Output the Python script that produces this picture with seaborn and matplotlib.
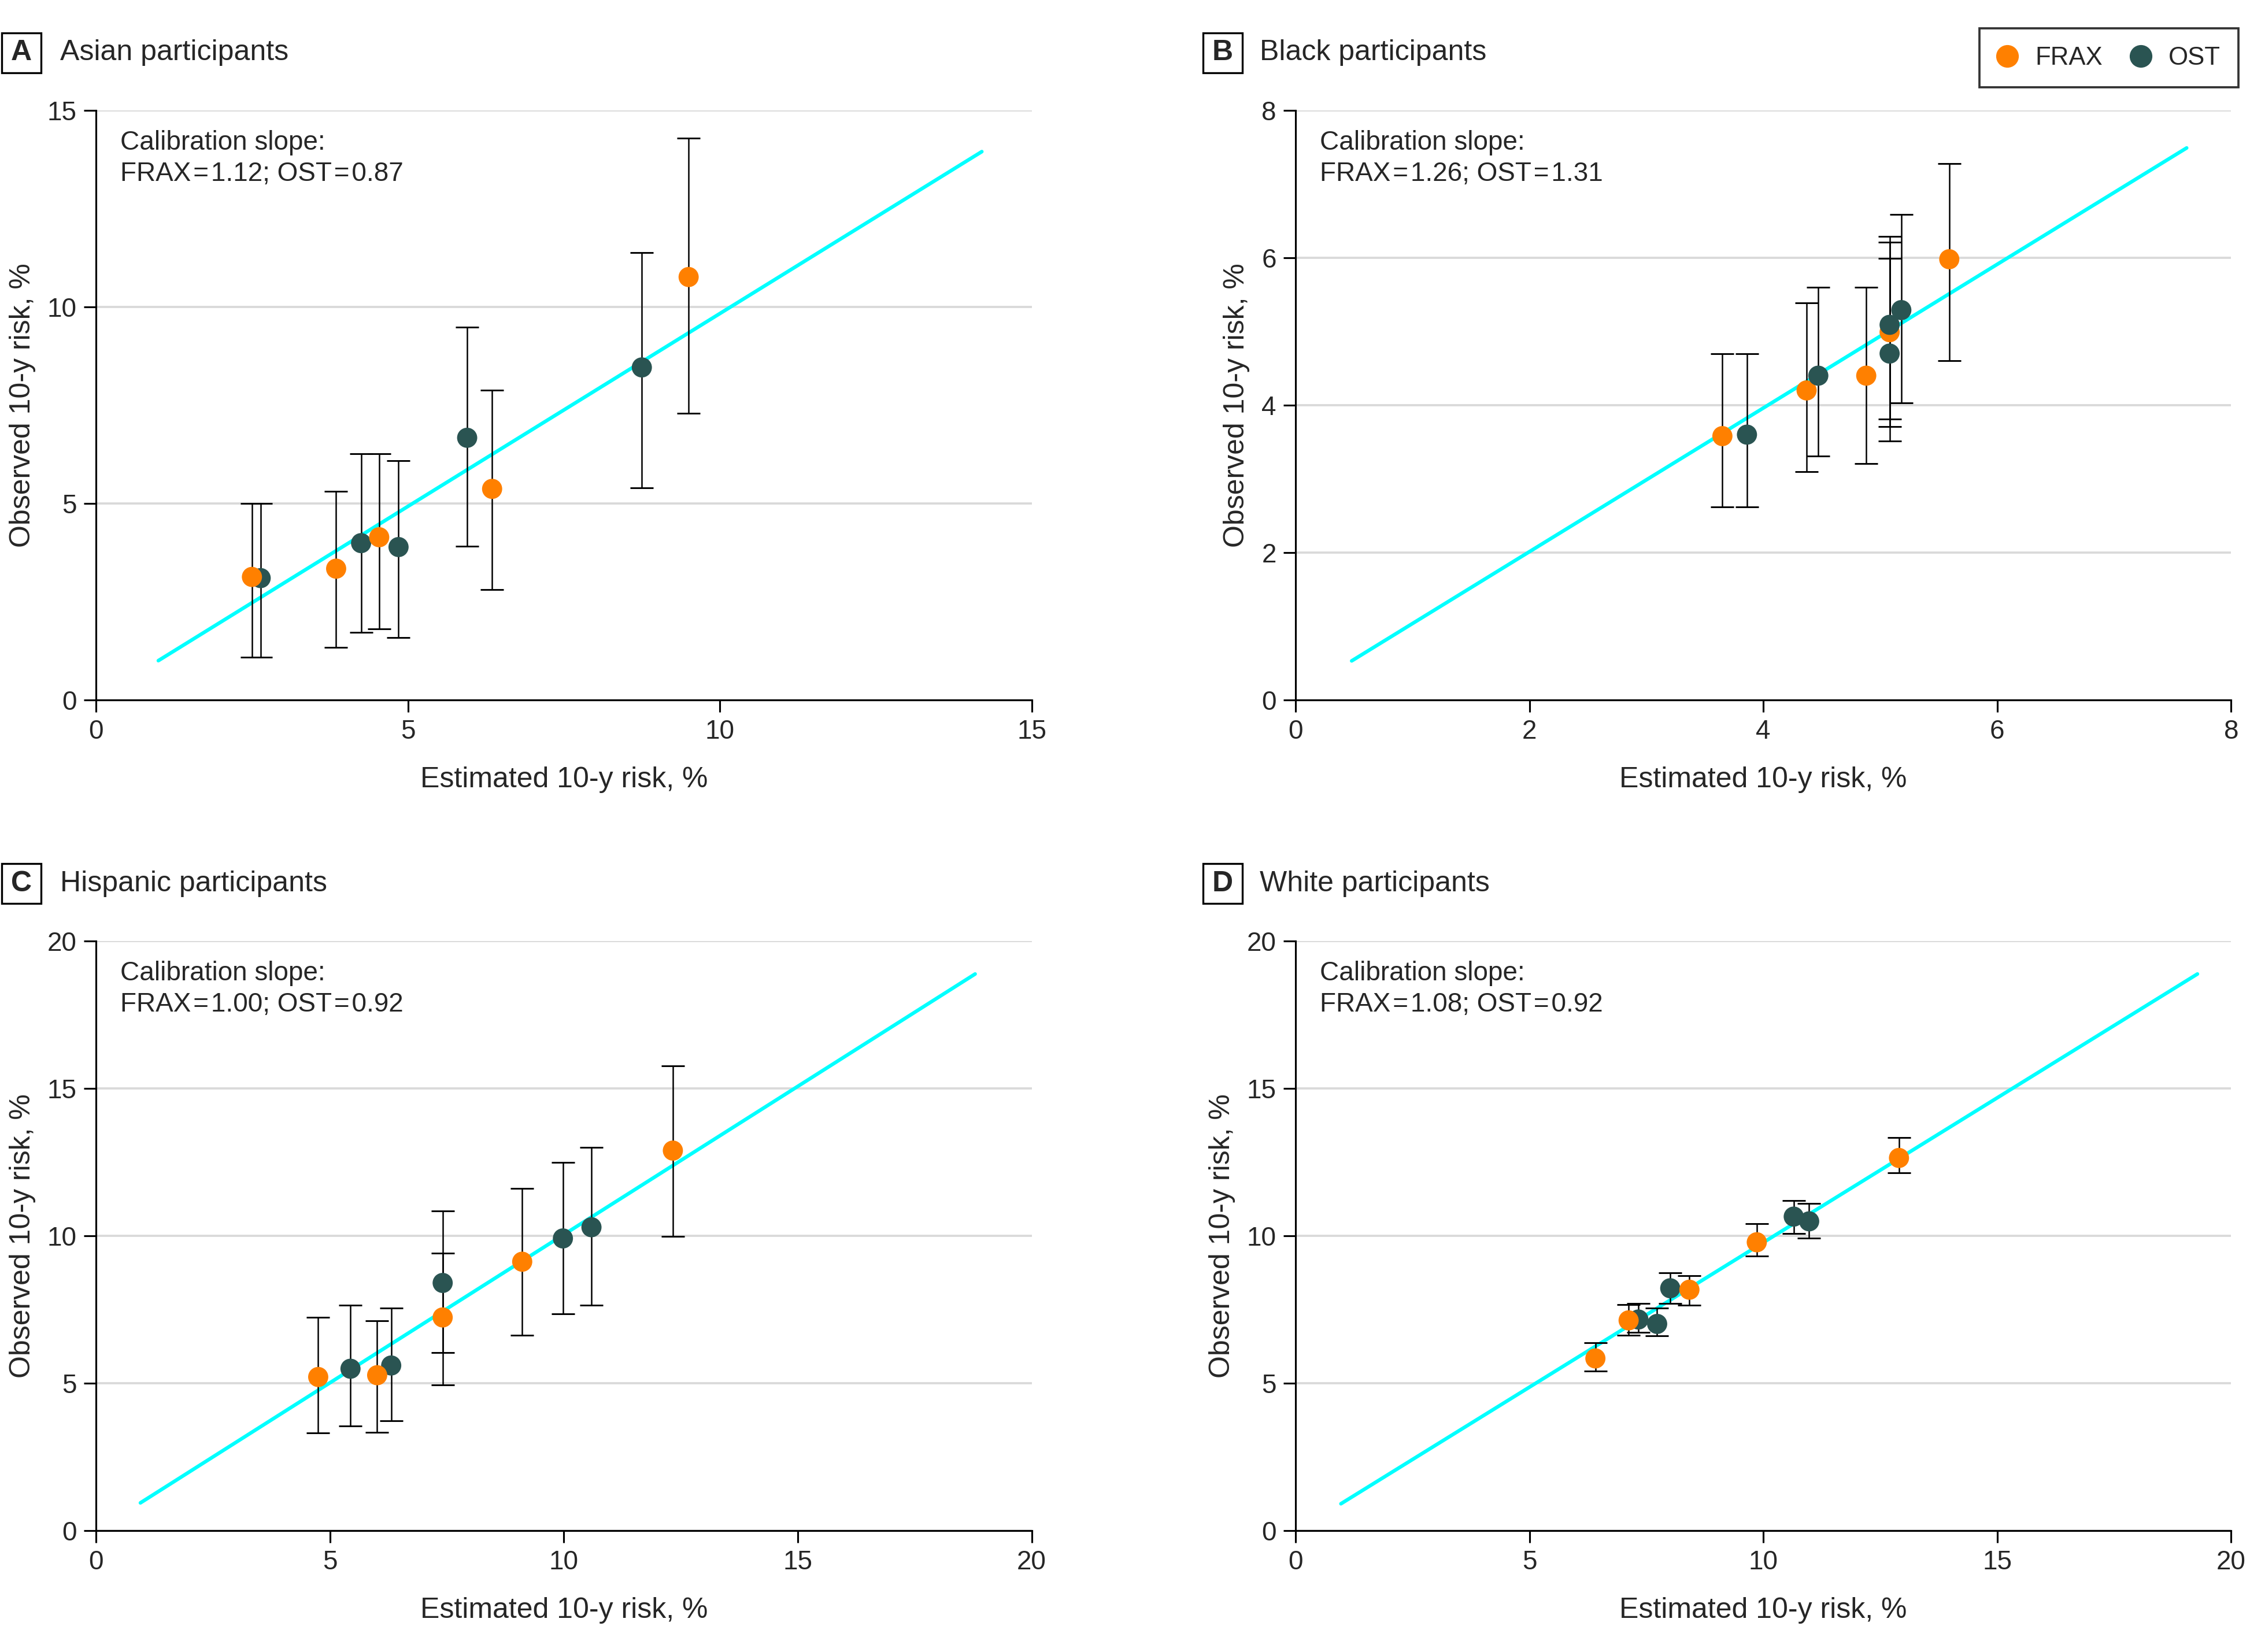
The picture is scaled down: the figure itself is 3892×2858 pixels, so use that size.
import numpy as np
import pandas as pd
import matplotlib
matplotlib.use("Agg")
import matplotlib.pyplot as plt
from matplotlib.patches import Rectangle
from matplotlib.lines import Line2D
import seaborn as sns

# ---------------- data ----------------
panel_letters = ["A", "B", "C", "D"]
panel_titles = ["Asian participants", "Black participants",
                "Hispanic participants", "White participants"]
slope_frax = ["1.12", "1.26", "1.00", "1.08"]
slope_ost = ["0.87", "1.31", "0.92", "0.92"]
axis_max = [15, 8, 20, 20]
axis_ticks = [[0, 5, 10, 15], [0, 2, 4, 6, 8], [0, 5, 10, 15, 20], [0, 5, 10, 15, 20]]

# Panel A - Asian
a_frax_x = [2.50, 3.85, 4.54, 6.35, 9.50]
a_frax_y = [3.13, 3.34, 4.14, 5.37, 10.76]
a_frax_lo = [1.09, 1.33, 1.81, 2.81, 7.29]
a_frax_hi = [5.00, 5.31, 6.27, 7.88, 14.30]
a_ost_x = [2.64, 4.25, 4.85, 5.95, 8.75]
a_ost_y = [3.10, 3.99, 3.89, 6.67, 8.46]
a_ost_lo = [1.09, 1.72, 1.59, 3.91, 5.39]
a_ost_hi = [5.00, 6.27, 6.09, 9.49, 11.38]
a_line_x = [1.00, 14.20]
a_line_y = [1.00, 13.95]

# Panel B - Black
b_frax_x = [3.65, 4.37, 4.88, 5.08, 5.59]
b_frax_y = [3.58, 4.20, 4.40, 4.99, 5.98]
b_frax_lo = [2.62, 3.10, 3.21, 3.71, 4.60]
b_frax_hi = [4.70, 5.39, 5.60, 6.21, 7.28]
b_ost_x = [3.86, 4.47, 5.08, 5.08, 5.18]
b_ost_y = [3.60, 4.40, 4.70, 5.09, 5.29]
b_ost_lo = [2.62, 3.31, 3.51, 3.81, 4.03]
b_ost_hi = [4.70, 5.60, 5.99, 6.29, 6.59]
b_line_x = [0.48, 7.62]
b_line_y = [0.53, 7.49]

# Panel C - Hispanic
c_frax_x = [4.75, 6.01, 7.41, 9.11, 12.33]
c_frax_y = [5.21, 5.27, 7.23, 9.12, 12.89]
c_frax_lo = [3.31, 3.33, 4.94, 6.63, 9.97]
c_frax_hi = [7.23, 7.12, 9.42, 11.61, 15.77]
c_ost_x = [5.44, 6.31, 7.41, 9.98, 10.59]
c_ost_y = [5.49, 5.60, 8.40, 9.91, 10.29]
c_ost_lo = [3.54, 3.73, 6.04, 7.35, 7.65]
c_ost_hi = [7.65, 7.54, 10.85, 12.49, 13.00]
c_line_x = [0.95, 18.79]
c_line_y = [0.94, 18.88]

# Panel D - White
d_frax_x = [6.41, 7.12, 8.42, 9.86, 12.90]
d_frax_y = [5.84, 7.13, 8.17, 9.78, 12.64]
d_frax_lo = [5.41, 6.62, 7.65, 9.31, 12.13]
d_frax_hi = [6.37, 7.66, 8.64, 10.42, 13.33]
d_ost_x = [7.33, 7.73, 8.01, 10.65, 10.98]
d_ost_y = [7.16, 7.01, 8.22, 10.65, 10.49]
d_ost_lo = [6.72, 6.61, 7.71, 10.08, 9.92]
d_ost_hi = [7.71, 7.55, 8.75, 11.19, 11.09]
d_line_x = [0.97, 19.28]
d_line_y = [0.91, 18.88]

# which model is drawn first (underneath) in each panel
first_model = ["OST", "FRAX", "OST", "OST"]

panel_data = {
    "A": (a_frax_x, a_frax_y, a_frax_lo, a_frax_hi, a_ost_x, a_ost_y, a_ost_lo, a_ost_hi, a_line_x, a_line_y),
    "B": (b_frax_x, b_frax_y, b_frax_lo, b_frax_hi, b_ost_x, b_ost_y, b_ost_lo, b_ost_hi, b_line_x, b_line_y),
    "C": (c_frax_x, c_frax_y, c_frax_lo, c_frax_hi, c_ost_x, c_ost_y, c_ost_lo, c_ost_hi, c_line_x, c_line_y),
    "D": (d_frax_x, d_frax_y, d_frax_lo, d_frax_hi, d_ost_x, d_ost_y, d_ost_lo, d_ost_hi, d_line_x, d_line_y),
}

# ---------------- style ----------------
ORANGE = "#FF8000"
TEAL = "#2A5452"
CYAN = "#00FFFF"
GRID = "#D9D9D9"
palette = {"FRAX": ORANGE, "OST": TEAL}

sns.set_theme(style="white")
plt.rcParams["font.family"] = ["Liberation Sans", "DejaVu Sans"]
plt.rcParams["axes.edgecolor"] = "black"
plt.rcParams["axes.linewidth"] = 0.75

fig = plt.figure(figsize=(3892 / 300, 2858 / 300), dpi=300)
fig.patch.set_facecolor("white")

positions = {
    "A": [0.04265, 0.5763, 0.4159, 0.3569],
    "B": [0.5758, 0.5763, 0.4158, 0.3569],
    "C": [0.04265, 0.0735, 0.4159, 0.3569],
    "D": [0.5758, 0.0735, 0.4158, 0.3569],
}
box_centers = {"A": (0.0095, 0.9680), "B": (0.5433, 0.9680),
               "C": (0.0095, 0.4651), "D": (0.5433, 0.4651)}
title_x = {"A": 0.0267, "B": 0.5599, "C": 0.0267, "D": 0.5599}
box_w, box_h = 0.01747, 0.02414
HS = "\u200a"

for i, letter in enumerate(panel_letters):
    fx, fy, flo, fhi, ox, oy, olo, ohi, lx, ly = panel_data[letter]
    frax = pd.DataFrame({"est": fx, "obs": fy, "lo": flo, "hi": fhi, "model": "FRAX"})
    ost = pd.DataFrame({"est": ox, "obs": oy, "lo": olo, "hi": ohi, "model": "OST"})
    df = pd.concat([ost, frax] if first_model[i] == "OST" else [frax, ost], ignore_index=True)

    ax = fig.add_axes(positions[letter])
    m = axis_max[i]
    ax.set_xlim(0, m)
    ax.set_ylim(0, m)
    ax.set_xticks(axis_ticks[i])
    ax.set_yticks(axis_ticks[i])
    ax.yaxis.grid(True, color=GRID, linewidth=0.9)
    ax.xaxis.grid(False)
    ax.set_axisbelow(True)
    for s in ["top", "right"]:
        ax.spines[s].set_visible(False)
    ax.tick_params(axis="both", which="both", direction="out", length=5, width=0.75,
                   color="black", labelsize=11, pad=3, bottom=True, left=True)

    sns.lineplot(x=lx, y=ly, color=CYAN, linewidth=1.5, ax=ax, zorder=2)
    ax.errorbar(df["est"], df["obs"],
                yerr=[df["obs"] - df["lo"], df["hi"] - df["obs"]],
                fmt="none", ecolor="black", elinewidth=0.6, capsize=4.8,
                capthick=0.7, zorder=3)
    sns.scatterplot(data=df, x="est", y="obs", hue="model", palette=palette,
                    s=70, linewidth=0, legend=False, ax=ax, zorder=4)

    ax.set_xlabel("Estimated 10-y risk, %", fontsize=12, labelpad=9)
    ax.set_ylabel("Observed 10-y risk, %", fontsize=12, labelpad=4.8)

    ax.text(0.026, 0.967,
            "Calibration slope:\nFRAX" + HS + "=" + HS + slope_frax[i] + "; OST" + HS + "=" + HS + slope_ost[i],
            transform=ax.transAxes, ha="left", va="top", fontsize=11, linespacing=1.3)

    cx, cy = box_centers[letter]
    fig.add_artist(Rectangle((cx - box_w / 2, cy - box_h / 2), box_w, box_h,
                             transform=fig.transFigure, fill=False,
                             edgecolor="black", linewidth=0.8))
    fig.text(cx, cy, letter, ha="center", va="center", fontsize=12, fontweight="bold")
    fig.text(title_x[letter], cy, panel_titles[i], ha="left", va="center", fontsize=12)

handles = [Line2D([], [], marker="o", linestyle="none", color=ORANGE, markersize=8.4),
           Line2D([], [], marker="o", linestyle="none", color=TEAL, markersize=8.4)]
leg = fig.legend(handles, ["FRAX", "OST"], loc="center", bbox_to_anchor=(0.9373, 0.9649),
                 ncol=2, frameon=True, fancybox=False, edgecolor="black", fontsize=10.5,
                 handletextpad=0.7, columnspacing=1.1, handlelength=0.8, borderpad=0.7)
leg.get_frame().set_linewidth(0.9)

fig.savefig("out.png", dpi=300, facecolor="white")
